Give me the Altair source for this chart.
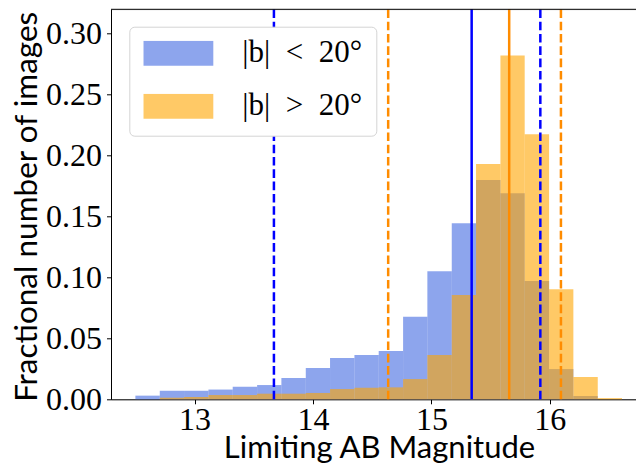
import altair as alt
import pandas as pd

# ---- data ----
bin_edges = [12.500, 12.706, 12.911, 13.117, 13.322, 13.528, 13.733, 13.939,
             14.144, 14.350, 14.555, 14.761, 14.966, 15.172, 15.377, 15.583,
             15.788, 15.994, 16.199, 16.405, 16.610]
low_lat = [0.003, 0.007, 0.007, 0.008, 0.0103, 0.0117, 0.0175, 0.0257, 0.0339,
           0.0363, 0.0396, 0.0677, 0.105, 0.1445, 0.180, 0.169, 0.097, 0.0248,
           0.0027, 0.0]
high_lat = [0.0, 0.0013, 0.0019, 0.0035, 0.0035, 0.0046, 0.0046, 0.0052, 0.0084,
            0.0095, 0.0098, 0.0166, 0.0363, 0.0855, 0.193, 0.282, 0.2175, 0.0904,
            0.0183, 0.001]
series_labels = ["|b|\u00a0\u00a0<\u00a0\u00a020°", "|b|\u00a0\u00a0>\u00a0\u00a020°"]
series_colors = ["#4169E1", "#FFA500"]
line_colors = ["#0000FF", "#FF8C00"]

line_series = [series_labels[0]] * 3 + [series_labels[1]] * 3
line_styles = ["dashed", "solid", "dashed", "dashed", "solid", "dashed"]
line_values = [13.67, 15.34, 15.92, 14.635, 15.657, 16.094]

x_ticks = [13, 14, 15, 16]
y_ticks = [0.0, 0.05, 0.10, 0.15, 0.20, 0.25, 0.30]
x_domain = [12.294, 16.728]
y_domain = [0.0, 0.32]

W, H = 525, 390

rows = []
for label, vals in zip(series_labels, [low_lat, high_lat]):
    for i, v in enumerate(vals):
        rows.append({"series": label, "start": bin_edges[i], "end": bin_edges[i + 1], "value": v})
hist_df = pd.DataFrame(rows)
lines_df = pd.DataFrame({"series": line_series, "style": line_styles, "x": line_values})

xscale = alt.Scale(domain=x_domain, nice=False, zero=False)
yscale = alt.Scale(domain=y_domain, nice=False, zero=False)

serif = "Liberation Serif"
sans = "Lato"

x_axis = alt.Axis(values=x_ticks, format="d", title="Limiting AB Magnitude",
                  labelFont=serif, labelFontSize=32, labelPadding=1,
                  tickSize=4.5, tickColor="black", domainColor="black",
                  labelColor="black", grid=False,
                  titleFont=sans, titleFontSize=31, titleFontWeight="normal",
                  titleColor="black", titleBaseline="alphabetic", titleY=58, titleX=268)
y_axis = alt.Axis(values=y_ticks, format=".2f", title="Fractional number of images",
                  labelFont=serif, labelFontSize=32, labelPadding=5,
                  tickSize=4.5, tickColor="black", domainColor="black",
                  labelColor="black", grid=False,
                  titleFont=sans, titleFontSize=31.5, titleFontWeight="normal",
                  titleColor="black", titleBaseline="alphabetic", titleX=-75, titleY=197,
                  titleAngle=270)

legend = alt.Legend(
    title=None, orient="none", legendX=18.3, legendY=17.4,
    padding=14, fillColor="white", strokeColor="#d4d4d4", cornerRadius=5,
    symbolType="M-1,-0.357L1,-0.357L1,0.357L-1,0.357Z", symbolSize=4900,
    symbolOpacity=0.6, symbolStrokeWidth=0, clipHeight=25,
    labelFont=serif, labelFontSize=31, labelOffset=29, labelColor="black",
    rowPadding=21, labelLimit=300,
)

bars = alt.Chart(hist_df).mark_rect(opacity=0.6).encode(
    x=alt.X("start:Q", scale=xscale, axis=x_axis),
    x2="end:Q",
    y=alt.Y("value:Q", scale=yscale, axis=y_axis),
    y2=alt.datum(0),
    color=alt.Color("series:N", scale=alt.Scale(domain=series_labels, range=series_colors),
                    legend=legend, sort=series_labels),
)

vlines = alt.Chart(lines_df).mark_rule(strokeWidth=2.5).encode(
    x=alt.X("x:Q", scale=xscale),
    y=alt.value(H),
    y2=alt.value(0),
    stroke=alt.Stroke("series:N", scale=alt.Scale(domain=series_labels, range=line_colors), legend=None),
    strokeDash=alt.StrokeDash("style:N", scale=alt.Scale(domain=["dashed", "solid"],
                                                          range=[[8.6, 3.7], [1, 0]]), legend=None),
)

top_spine = alt.Chart(pd.DataFrame({"a": [0]})).mark_rule(color="black", strokeWidth=1).encode(
    x=alt.value(0), x2=alt.value(W + 10), y=alt.value(0)
)

chart = alt.layer(bars, vlines, top_spine).resolve_scale(
    stroke="independent"
).properties(
    width=W, height=H,
    padding={"left": 103, "top": 1.3, "right": 0, "bottom": 65.7},
    autosize=alt.AutoSizeParams(type="none"),
).configure_view(stroke=None).configure(background="white")

chart.save("out.html", embed_options={"renderer": "svg", "actions": False})
